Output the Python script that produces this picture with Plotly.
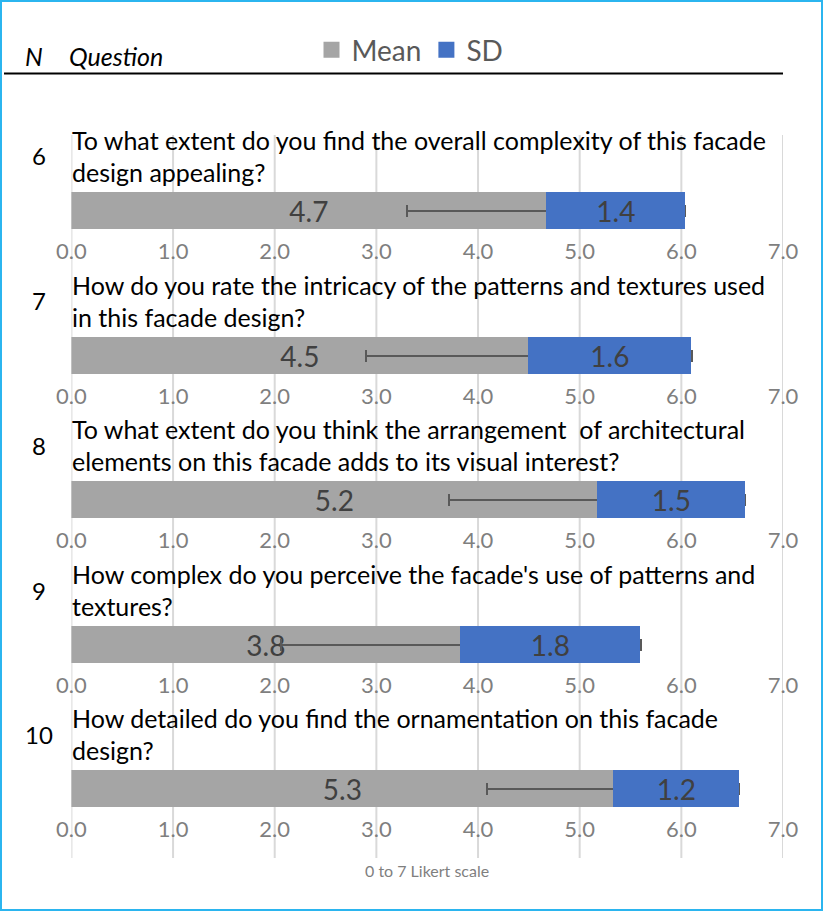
import plotly.graph_objects as go
from plotly.subplots import make_subplots

# ---- data ----
numbers = ["6", "7", "8", "9", "10"]
questions = [
    ["To what extent do you find the overall complexity of this facade", "design appealing?"],
    ["How do you rate the intricacy of the patterns and textures used", "in this facade design?"],
    ["To what extent do you think the arrangement  of architectural", "elements on this facade adds to its visual interest?"],
    ["How complex do you perceive the facade's use of patterns and", "textures?"],
    ["How detailed do you find the ornamentation on this facade", "design?"],
]
means = [4.67, 4.50, 5.17, 3.83, 5.33]
sds = [1.37, 1.60, 1.46, 1.77, 1.24]
tick_vals = [0, 1, 2, 3, 4, 5, 6, 7]
series_names = ["Mean", "SD"]
axis_note = "0 to 7 Likert scale"

W, H = 823, 911
X0, X1 = 71.4, 783.0
bar_tops = [192, 337, 481, 626, 770]
BAR_H = 37

def py(p):
    return 1 - p / H

GRAY = "#A5A5A5"
BLUE = "#4472C4"
FONT = "Lato"

fig = make_subplots(rows=5, cols=1)

for i in range(5):
    r = i + 1
    fig.add_trace(go.Bar(
        y=[numbers[i]], x=[means[i]], orientation="h", name=series_names[0],
        marker=dict(color=GRAY, line=dict(width=0)), width=1,
        texttemplate="%{x:.1f}", textposition="inside", insidetextanchor="middle",
        constraintext="none", cliponaxis=False,
        textfont=dict(size=28, color="#404040", family=FONT),
        error_x=dict(type="data", array=[sds[i]], color="#595959", thickness=2, width=6),
        showlegend=False,
    ), row=r, col=1)
    fig.add_trace(go.Bar(
        y=[numbers[i]], x=[sds[i]], orientation="h", name=series_names[1],
        marker=dict(color=BLUE, line=dict(width=0)), width=1,
        texttemplate="%{x:.1f}", textposition="inside", insidetextanchor="middle",
        constraintext="none", cliponaxis=False,
        textfont=dict(size=28, color="#404040", family=FONT),
        showlegend=False,
    ), row=r, col=1)

# legend-only entries with larger square swatches
for name, col in zip(series_names, [GRAY, BLUE]):
    fig.add_trace(go.Scatter(x=[None], y=[None], mode="markers", name=name,
                             marker=dict(symbol="square", size=17, color=col),
                             showlegend=True), row=1, col=1)

fig.update_layout(barmode="stack")

for i in range(5):
    r = i + 1
    xa = "xaxis" if r == 1 else f"xaxis{r}"
    ya = "yaxis" if r == 1 else f"yaxis{r}"
    top, bot = bar_tops[i], bar_tops[i] + BAR_H
    fig.layout[ya].update(domain=[py(bot), py(top)], visible=False, range=[-0.5, 0.5],
                          automargin=False, type="category")
    fig.layout[xa].update(domain=[X0 / W, X1 / W], range=[0, 7], tickvals=tick_vals,
                          tickformat=".1f", showgrid=False, zeroline=False, showline=False,
                          ticks="outside", ticklen=3, tickcolor="rgba(0,0,0,0)",
                          automargin=False,
                          tickfont=dict(size=22, color="#7F7F7F", family=FONT))

shapes = []
for v in tick_vals:
    shapes.append(dict(type="line", xref="x", yref="paper", x0=v, x1=v,
                       y0=py(135), y1=py(858), line=dict(color="#D9D9D9", width=2), layer="below"))
# header rule
shapes.append(dict(type="line", xref="paper", yref="paper", x0=4 / W, x1=X1 / W,
                   y0=py(73.5), y1=py(73.5), line=dict(color="black", width=2)))
# outer border
shapes.append(dict(type="rect", xref="paper", yref="paper", x0=1 / W, x1=1 - 1 / W,
                   y0=py(H - 1), y1=py(1), line=dict(color="#2BB5EF", width=2)))

ann = []
ann.append(dict(text="<i>N</i>", x=34 / W, y=py(56), xref="paper", yref="paper",
                xanchor="center", yanchor="middle", showarrow=False,
                font=dict(size=25, color="black", family=FONT)))
ann.append(dict(text="<i>Question</i>", x=67 / W, y=py(56), xref="paper", yref="paper",
                xanchor="left", yanchor="middle", showarrow=False,
                font=dict(size=25, color="black", family=FONT)))
for i in range(5):
    top = bar_tops[i]
    l1 = top - 52
    l2 = top - 20
    for j, line in enumerate(questions[i]):
        ann.append(dict(text=line, x=70 / W, y=py([l1, l2][j]), xref="paper", yref="paper",
                        xanchor="left", yanchor="middle", showarrow=False,
                        font=dict(size=25, color="black", family=FONT)))
    ann.append(dict(text=numbers[i], x=39 / W, y=py((l1 + l2) / 2), xref="paper", yref="paper",
                    xanchor="center", yanchor="middle", showarrow=False,
                    font=dict(size=24, color="black", family=FONT)))
ann.append(dict(text=axis_note, x=(X0 + X1) / 2 / W, y=py(870), xref="paper", yref="paper",
                xanchor="center", yanchor="middle", showarrow=False,
                font=dict(size=16, color="#7F7F7F", family=FONT)))

fig.update_layout(
    width=W, height=H, margin=dict(l=0, r=0, t=0, b=0, autoexpand=False),
    paper_bgcolor="white", plot_bgcolor="rgba(0,0,0,0)",
    shapes=shapes, annotations=ann,
    legend=dict(orientation="h", x=410 / W, y=py(50), xanchor="center", yanchor="middle",
                font=dict(size=28, color="#595959", family=FONT),
                traceorder="normal", bgcolor="rgba(0,0,0,0)", itemsizing="trace"),
    bargap=0,
)

fig.write_html("out.html")
